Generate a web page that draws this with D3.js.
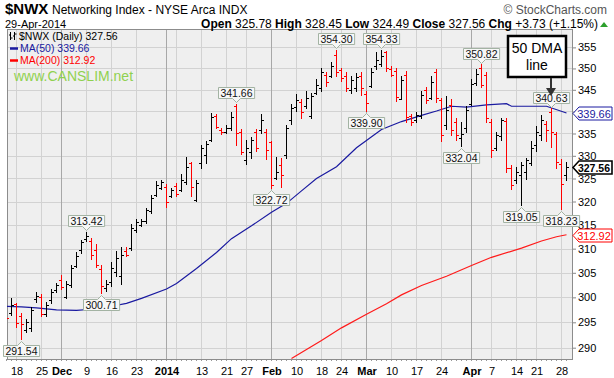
<!DOCTYPE html>
<html>
<head>
<meta charset="utf-8">
<script src="https://cdn.jsdelivr.net/npm/d3@7"></script>
<style>
  body { margin: 0; background: #fff; }
  text { font-family: "Liberation Sans", Arial, sans-serif; }
</style>
</head>
<body>
<script>
// trading days, 14-Nov-2013 .. 29-Apr-2014
const dates = [
  "2013-11-14","2013-11-15","2013-11-18","2013-11-19","2013-11-20","2013-11-21","2013-11-22","2013-11-25","2013-11-26","2013-11-27","2013-11-29",
  "2013-12-02","2013-12-03","2013-12-04","2013-12-05","2013-12-06","2013-12-09","2013-12-10","2013-12-11","2013-12-12","2013-12-13",
  "2013-12-16","2013-12-17","2013-12-18","2013-12-19","2013-12-20","2013-12-23","2013-12-24","2013-12-26","2013-12-27","2013-12-30","2013-12-31",
  "2014-01-02","2014-01-03","2014-01-06","2014-01-07","2014-01-08","2014-01-09","2014-01-10","2014-01-13","2014-01-14","2014-01-15","2014-01-16","2014-01-17",
  "2014-01-21","2014-01-22","2014-01-23","2014-01-24","2014-01-27","2014-01-28","2014-01-29","2014-01-30","2014-01-31",
  "2014-02-03","2014-02-04","2014-02-05","2014-02-06","2014-02-07","2014-02-10","2014-02-11","2014-02-12","2014-02-13","2014-02-14",
  "2014-02-18","2014-02-19","2014-02-20","2014-02-21","2014-02-24","2014-02-25","2014-02-26","2014-02-27","2014-02-28",
  "2014-03-03","2014-03-04","2014-03-05","2014-03-06","2014-03-07","2014-03-10","2014-03-11","2014-03-12","2014-03-13","2014-03-14",
  "2014-03-17","2014-03-18","2014-03-19","2014-03-20","2014-03-21","2014-03-24","2014-03-25","2014-03-26","2014-03-27","2014-03-28","2014-03-31",
  "2014-04-01","2014-04-02","2014-04-03","2014-04-04","2014-04-07","2014-04-08","2014-04-09","2014-04-10","2014-04-11",
  "2014-04-14","2014-04-15","2014-04-16","2014-04-17","2014-04-21","2014-04-22","2014-04-23","2014-04-24","2014-04-25","2014-04-28","2014-04-29"
];

const opens = [
  297.0,296.8,298.6,296.2,293.5,293.9,299.6,300.0,296.6,299.4,301.5,
  303.5,300.0,302.5,306.4,309.7,312.0,311.5,309.7,305.8,301.9,
  303.1,305.1,304.3,309.5,310.1,313.9,315.0,315.8,318.0,321.4,322.9,
  323.1,321.2,323.4,322.5,324.3,328.4,320.3,328.4,330.2,333.5,339.0,335.8,
  335.3,336.2,341.3,335.3,329.1,330.9,335.3,335.8,335.3,
  333.1,325.1,328.0,330.2,338.1,341.1,342.2,341.3,339.0,344.3,
  345.5,348.5,348.2,353.2,349.7,348.2,345.0,345.5,348.2,
  344.1,345.9,350.6,351.0,353.9,349.9,349.4,342.9,348.5,339.0,
  338.1,339.0,345.0,343.1,349.2,342.7,336.9,341.5,337.6,334.0,336.2,
  341.8,346.6,350.1,348.5,337.6,331.7,334.5,337.8,327.3,
  324.7,325.8,326.5,328.4,332.4,334.7,337.1,339.9,334.9,328.2,325.78
];
const highs = [
  297.4,299.8,298.8,296.8,295.6,298.0,301.0,300.5,299.0,301.5,302.9,
  304.5,303.3,306.6,309.3,311.8,313.42,312.2,310.8,306.6,303.5,
  307.2,309.5,310.2,310.2,315.0,316.2,316.2,318.6,321.4,324.3,324.5,
  323.6,322.9,323.8,325.8,329.7,328.6,324.5,332.4,333.1,339.5,339.2,336.2,
  336.9,339.7,341.66,335.8,333.5,334.2,335.8,339.2,335.8,
  333.1,329.7,329.5,336.9,341.5,343.8,342.7,344.5,344.1,347.3,
  350.1,349.0,351.5,354.30,350.1,349.0,348.2,348.7,349.0,
  344.5,350.1,353.7,354.33,354.1,350.4,349.9,348.0,349.2,339.2,
  339.7,344.5,345.5,348.0,349.7,343.1,343.4,342.7,338.5,337.6,341.1,
  347.3,349.7,350.82,349.0,338.1,335.3,338.5,338.3,327.8,
  327.5,328.6,329.5,333.1,336.5,339.0,337.8,340.63,335.3,329.1,328.45
];
const lows = [
  295.0,296.4,294.0,291.54,292.9,293.1,298.9,296.2,296.2,298.8,300.9,
  301.5,299.8,301.9,306.0,308.9,311.4,307.8,306.0,300.71,301.1,
  302.3,304.3,302.7,308.3,309.7,313.3,314.6,315.4,317.5,321.0,322.5,
  318.8,320.8,321.0,322.1,323.6,321.0,320.1,327.3,328.4,333.1,336.2,334.7,
  335.1,335.6,332.4,330.2,328.0,329.5,330.9,335.1,329.1,
  322.72,324.7,323.1,329.5,337.1,339.9,338.5,340.6,338.5,343.8,
  344.5,345.7,347.8,348.2,347.0,344.5,344.1,344.5,343.6,
  339.90,345.5,349.7,350.4,349.2,348.0,342.4,342.7,337.6,336.9,
  337.6,338.5,341.8,342.7,342.0,333.1,335.8,334.5,333.5,332.04,335.3,
  341.3,346.1,345.5,337.6,329.7,331.1,333.5,326.3,322.5,
  323.8,319.05,324.7,327.8,330.9,333.5,333.3,331.9,327.3,318.23,324.49
];
const closes = [
  295.8,298.4,294.8,294.6,295.0,297.4,300.2,296.6,298.4,301.1,302.5,
  302.1,302.7,306.0,308.5,311.4,312.6,308.6,306.6,302.4,302.7,
  306.0,308.1,308.7,308.6,314.4,315.6,315.8,318.2,320.8,323.6,324.3,
  319.8,322.5,321.6,324.7,327.5,323.1,324.1,331.7,332.6,338.8,336.5,335.3,
  336.2,338.8,335.1,330.9,331.7,333.5,331.7,338.1,331.3,
  323.6,326.5,325.8,336.2,340.8,342.7,339.9,343.1,343.6,346.1,
  349.2,346.8,350.6,349.2,347.8,345.5,347.3,348.0,345.5,
  342.0,349.2,352.0,353.0,350.1,348.5,343.4,347.3,338.8,337.6,
  339.2,343.8,342.7,346.8,343.1,334.7,340.4,335.8,334.7,334.9,340.4,
  346.4,348.7,346.1,338.5,331.3,334.7,338.1,327.3,323.6,
  326.5,328.0,329.1,331.7,335.3,338.1,335.8,335.3,328.6,323.83,327.56
];

// moving averages
const ma50Dates = ["2013-11-14","2013-11-19","2013-11-22","2013-11-29","2013-12-05","2013-12-10","2013-12-13","2013-12-19","2013-12-24",
  "2014-01-02","2014-01-06","2014-01-10","2014-01-16","2014-01-22","2014-01-28","2014-02-03","2014-02-06","2014-02-11","2014-02-14",
  "2014-02-21","2014-02-27","2014-03-06","2014-03-12","2014-03-18","2014-03-21","2014-03-26","2014-03-31","2014-04-04","2014-04-10",
  "2014-04-11","2014-04-23","2014-04-29"];
const ma50Values = [298.2,298.1,297.9,297.5,297.4,297.6,298.0,298.8,299.8,
  301.7,302.8,305.9,309.2,312.1,314.8,317.7,319.6,322.3,325.0,
  327.6,331.8,335.9,337.7,339.1,340.1,341.2,341.0,341.5,341.8,
  341.2,341.2,339.66];
const ma200Dates = ["2014-02-07","2014-02-18","2014-02-24","2014-03-03","2014-03-07","2014-03-12","2014-03-18","2014-03-25",
  "2014-04-01","2014-04-07","2014-04-15","2014-04-22","2014-04-25","2014-04-29"];
const ma200Values = [287.9,291.4,293.9,296.6,298.7,300.5,302.4,304.3,306.5,308.2,310.1,311.6,312.5,312.92];

const yTicks = [290,295,300,305,310,315,320,325,330,335,340,345,350,355];
const xTickDates = ["2013-11-18","2013-11-25","2013-12-02","2013-12-09","2013-12-16","2013-12-23","2014-01-02","2014-01-13","2014-01-21",
  "2014-01-27","2014-02-03","2014-02-10","2014-02-18","2014-02-24","2014-03-03","2014-03-10","2014-03-17","2014-03-24","2014-04-01",
  "2014-04-07","2014-04-14","2014-04-21","2014-04-28"];
const xTickLabels = ["18","25","Dec","9","16","23","2014","13","21","27","Feb","10","18","24","Mar","10","17","24","Apr","7","14","21","28"];
const xGridExtra = ["2014-01-06"];

const peakDates = ["2013-11-19","2013-12-09","2013-12-12","2014-01-23","2014-02-03","2014-02-21","2014-03-03","2014-03-06",
  "2014-03-28","2014-04-03","2014-04-15","2014-04-24","2014-04-28"];
const peakValues = [291.54,313.42,300.71,341.66,322.72,354.30,339.90,354.33,332.04,350.82,319.05,340.63,318.23];
const peakSide = ["low","high","low","high","low","high","low","high","low","high","low","high","low"];

const W = 614, H = 378;
const pL = 7, pR = 573, pT = 29.5, pB = 359;

const svg = d3.select("body").append("svg").attr("width", W).attr("height", H);

const idx = new Map(dates.map((d, k) => [d, k]));
const x = d3.scaleLinear().domain([0, dates.length - 1]).range([6, 566]);
const y = d3.scaleLog().domain([287.8, 359.3]).range([pB, pT]);
const xd = d => x(idx.get(d));
const fmt = d3.format(".2f");

svg.append("defs").append("clipPath").attr("id", "clip")
  .append("rect").attr("x", pL).attr("y", pT).attr("width", pR - pL).attr("height", pB - pT);

// plot background
svg.append("rect").attr("x", pL).attr("y", pT).attr("width", pR - pL).attr("height", pB - pT)
  .attr("fill", "#efefef");

// grid
const grid = svg.append("g").attr("shape-rendering", "crispEdges");
grid.selectAll(".hg").data(yTicks).join("line")
  .attr("x1", pL).attr("x2", pR)
  .attr("y1", d => Math.round(y(d)) + 0.5).attr("y2", d => Math.round(y(d)) + 0.5)
  .attr("stroke", "#d2d2d2");
const monthLabels = new Set(["Dec","2014","Feb","Mar","Apr"]);
grid.selectAll(".vg").data(xTickDates.concat(xGridExtra)).join("line")
  .attr("x1", d => xd(d) + 0.5).attr("x2", d => xd(d) + 0.5)
  .attr("y1", pT).attr("y2", pB)
  .attr("stroke", (d, i) => monthLabels.has(xTickLabels[i]) ? "#a8a8a8" : "#d2d2d2");

// last values shown in the tags on the right
const tagValues = [ma50Values[ma50Values.length - 1], ma200Values[ma200Values.length - 1], closes[closes.length - 1]];

// axes
const yAxis = d3.axisRight(y).tickValues(yTicks).tickSize(3).tickFormat(d3.format("d"));
const ya = svg.append("g").attr("transform", `translate(${pR},0)`).call(yAxis);
ya.select(".domain").remove();
ya.selectAll("line").attr("stroke", "#888");
ya.selectAll("text").attr("x", 5).attr("font-size", 11).attr("font-family", "Liberation Sans, Arial").attr("fill", "#000");
// a tag sitting on a tick label hides it
ya.selectAll(".tick").filter(d => tagValues.some(v => Math.abs(y(v) - y(d)) < 8)).select("text").remove();

const xAxis = d3.axisBottom(x).tickValues(xTickDates.map(d => idx.get(d))).tickSize(0)
  .tickFormat((d, i) => xTickLabels[i]);
const xa = svg.append("g").attr("transform", `translate(0.5,${pB})`).call(xAxis);
xa.select(".domain").remove();
xa.selectAll("text").attr("y", 8).attr("font-size", 11).attr("font-family", "Liberation Sans, Arial").attr("fill", "#000")
  .attr("font-weight", (d, i) => monthLabels.has(xTickLabels[i]) ? "bold" : "normal");

// small day ticks along the bottom
svg.append("g").selectAll("line").data(dates).join("line")
  .attr("x1", (d, k) => x(k) + 0.5).attr("x2", (d, k) => x(k) + 0.5)
  .attr("y1", pB).attr("y2", pB + 2).attr("stroke", "#999");

// frame
svg.append("rect").attr("x", pL + 0.5).attr("y", pT).attr("width", pR - pL - 1).attr("height", pB - pT)
  .attr("fill", "none").attr("stroke", "#8c8c8c").attr("shape-rendering", "crispEdges");

const plot = svg.append("g").attr("clip-path", "url(#clip)");

// moving averages
const maLine = d3.line().x(d => xd(d[0]) + 0.5).y(d => y(d[1]));
plot.append("path").datum(d3.zip(ma200Dates, ma200Values))
  .attr("fill", "none").attr("stroke", "#ff1a1a").attr("stroke-width", 1.2).attr("d", maLine);
plot.append("path").datum(d3.zip(ma50Dates, ma50Values))
  .attr("fill", "none").attr("stroke", "#1a1aa0").attr("stroke-width", 1.2).attr("d", maLine);

// OHLC bars
const ohlc = dates.map((d, k) => ({
  k, o: opens[k], h: highs[k], l: lows[k], c: closes[k],
  up: k === 0 ? closes[k] >= opens[k] : closes[k] >= closes[k - 1]
}));
const bar = plot.append("g").attr("shape-rendering", "crispEdges").selectAll("g").data(ohlc).join("g")
  .attr("stroke", d => d.up ? "#000" : "#f00");
bar.append("line").attr("x1", d => x(d.k) + 0.5).attr("x2", d => x(d.k) + 0.5)
  .attr("y1", d => y(d.h) - 0.5).attr("y2", d => y(d.l) + 0.5);
bar.append("line").attr("x1", d => x(d.k) - 2).attr("x2", d => x(d.k) + 0.5)
  .attr("y1", d => Math.round(y(d.o)) + 0.5).attr("y2", d => Math.round(y(d.o)) + 0.5);
bar.append("line").attr("x1", d => x(d.k) + 0.5).attr("x2", d => x(d.k) + 3)
  .attr("y1", d => Math.round(y(d.c)) + 0.5).attr("y2", d => Math.round(y(d.c)) + 0.5);

// peak / trough labels
const lab = svg.append("g");
peakDates.forEach((d, i) => {
  const px = xd(d) + 0.5, py = y(peakValues[i]);
  const hi = peakSide[i] === "high";
  const t = lab.append("text").attr("font-size", 10.5).attr("text-anchor", "middle").attr("fill", "#111")
    .text(fmt(peakValues[i]));
  const w = t.node().getComputedTextLength() + 4, h = 11;
  const bx = Math.round(px - w / 2) + 0.5;
  const by = hi ? Math.round(py - 6 - h) + 0.5 : Math.round(py + 5) + 0.5;
  const path = hi
    ? `M${bx},${by}h${w}v${h}H${px + 4}l-4,4l-4,-4H${bx}Z`
    : `M${bx},${by}H${px - 4}l4,-4l4,4H${bx + w}v${h}H${bx}Z`;
  lab.insert("path", "text").attr("d", path).attr("fill", "#f7f7f7").attr("stroke", "#a3b3a3");
  t.attr("x", px).attr("y", by + 9);
});

// legend inside plot
const lg = svg.append("g");
lg.append("path").attr("d", "M10.5,32v8M9,35h1.5M10.5,38h2M14.5,32v8M13,36h1.5M14.5,34h2")
  .attr("stroke", "#000").attr("fill", "none");
lg.append("text").attr("x", 19).attr("y", 40).attr("font-size", 10.5).text("$NWX (Daily) 327.56");
lg.append("line").attr("x1", 10).attr("x2", 18).attr("y1", 48.5).attr("y2", 48.5).attr("stroke", "#1a1aa0").attr("stroke-width", 2.5);
lg.append("text").attr("x", 20).attr("y", 52).attr("font-size", 10.5).attr("fill", "#1a1aa0").text("MA(50) 339.66");
lg.append("line").attr("x1", 10).attr("x2", 18).attr("y1", 60.5).attr("y2", 60.5).attr("stroke", "#f00").attr("stroke-width", 2.5);
lg.append("text").attr("x", 20).attr("y", 64).attr("font-size", 10.5).attr("fill", "#f00").text("MA(200) 312.92");
lg.append("text").attr("x", 14).attr("y", 81).attr("font-size", 14).attr("fill", "#8fd14f").text("www.CANSLIM.net");

// right-hand value tags
function tag(v, color, bold) {
  const ty = Math.round(y(v)) + 0.5;
  const g = svg.append("g");
  g.append("path").attr("d", `M${pR},${ty}l6,-6.5H612v13H${pR + 6}Z`)
    .attr("fill", "#fff").attr("stroke", color).attr("stroke-width", bold ? 1.6 : 1);
  g.append("text").attr("x", 594).attr("y", ty + 4).attr("font-size", bold ? 10.5 : 11)
    .attr("text-anchor", "middle")
    .attr("font-weight", bold ? "bold" : "normal").attr("fill", color).text(fmt(v));
}
tag(tagValues[0], "#1a1aa0", false);
tag(tagValues[1], "#f00", false);
tag(tagValues[2], "#000", true);

// callout
const co = svg.append("g");
co.append("rect").attr("x", 508).attr("y", 36).attr("width", 58).attr("height", 41)
  .attr("fill", "#fff").attr("stroke", "#000").attr("stroke-width", 2.5);
co.append("text").attr("x", 537).attr("y", 53).attr("text-anchor", "middle").attr("font-size", 14).text("50 DMA");
co.append("text").attr("x", 537).attr("y", 70).attr("text-anchor", "middle").attr("font-size", 14).text("line");
co.append("line").attr("x1", 551).attr("x2", 551).attr("y1", 78).attr("y2", 89).attr("stroke", "#333").attr("stroke-width", 2);
co.append("path").attr("d", "M546,88L556,88L551,96Z").attr("fill", "#333");

// header
const hd = svg.append("g");
hd.append("text").attr("x", 5).attr("y", 14).attr("font-size", 15).attr("font-weight", "bold").text("$NWX");
hd.append("text").attr("x", 52).attr("y", 14).attr("font-size", 12).text("Networking Index - NYSE Arca INDX");
hd.append("text").attr("x", 607).attr("y", 14).attr("font-size", 12).attr("text-anchor", "end").attr("fill", "#555")
  .text("\u00A9 StockCharts.com");
hd.append("text").attr("x", 5).attr("y", 28).attr("font-size", 11).text("29-Apr-2014");
const last = closes.length - 1;
const chg = closes[last] - closes[last - 1];
const info = hd.append("text").attr("x", 598).attr("y", 28).attr("font-size", 12).attr("text-anchor", "end");
[["Open", opens[last]], ["High", highs[last]], ["Low", lows[last]], ["Close", closes[last]]].forEach(([k, v]) => {
  info.append("tspan").attr("font-weight", "bold").text(k + " ");
  info.append("tspan").text(fmt(v) + "  ");
});
info.append("tspan").attr("font-weight", "bold").text("Chg ");
info.append("tspan").text(`+${fmt(chg)} (+${fmt(chg / closes[last - 1] * 100)}%)`);
hd.append("path").attr("d", "M600,27L608,27L604,22Z").attr("fill", "#2ca02c");
</script>
</body>
</html>
